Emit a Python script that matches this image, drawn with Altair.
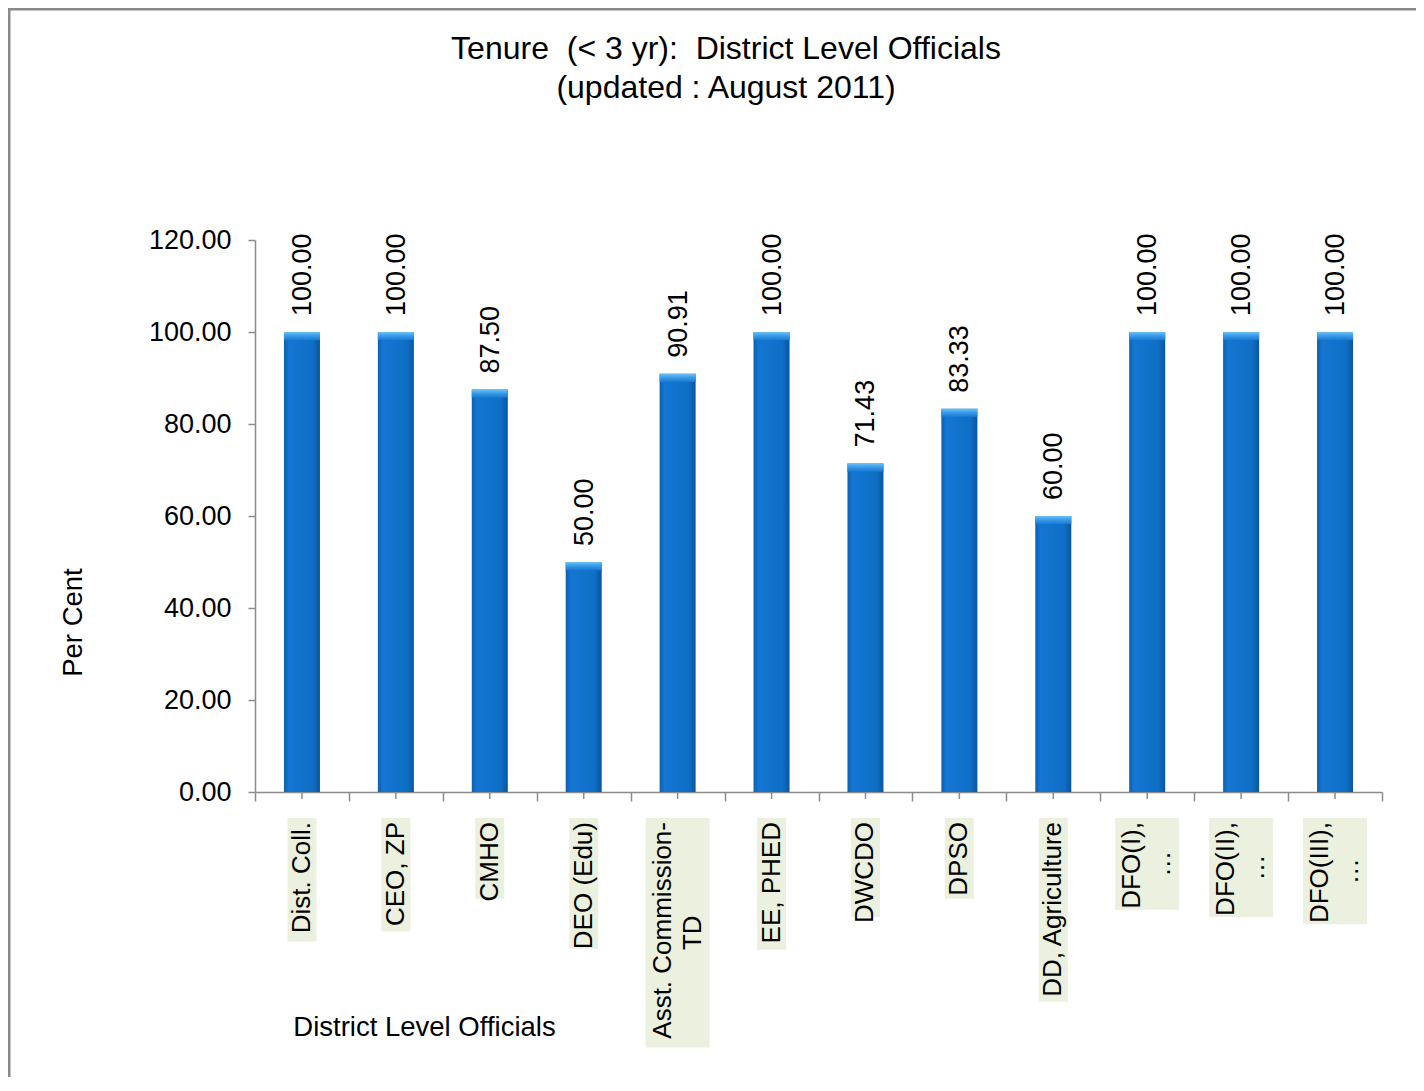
import altair as alt
import pandas as pd

# ---------------- data ----------------
categories = [
    "Dist. Coll.", "CEO, ZP", "CMHO", "DEO (Edu)", "Asst. Commission-\nTD",
    "EE, PHED", "DWCDO", "DPSO", "DD, Agriculture",
    "DFO(I),\n…", "DFO(II),\n…", "DFO(III),\n…",
]
values = [100.00, 100.00, 87.50, 50.00, 90.91, 100.00, 71.43, 83.33, 60.00, 100.00, 100.00, 100.00]
y_ticks = [0, 20, 40, 60, 80, 100, 120]
title_lines = ["Tenure\u00a0\u00a0(< 3 yr):\u00a0\u00a0District Level Officials", "(updated : August 2011)"]
x_title = "District Level Officials"
y_title = "Per Cent"

df = pd.DataFrame({"cat": categories, "value": values})

# ---------------- style ----------------
FONT = "Liberation Sans, Arial, Helvetica, sans-serif"
W, H = 1127, 552
FS = 26          # category labels
FS_AX = 27       # tick labels and value labels
FS_T = 27.5      # axis titles
GREY = "#8c8c8c"

xenc = alt.X(
    "cat:N", sort=categories,
    scale=alt.Scale(paddingInner=0, paddingOuter=0),
    axis=alt.Axis(
        labels=False, title=x_title, tickBand="extent", tickSize=9,
        domainColor=GREY, tickColor=GREY, domainWidth=1.5, tickWidth=1.5,
        titleFont=FONT, titleFontSize=FS_T, titleFontWeight="normal", titleColor="black",
        titleX=169, titleY=235, titleAlign="center", titleBaseline="middle",
    ),
)

yenc = alt.Y(
    "value:Q",
    scale=alt.Scale(domain=[0, 120], nice=False),
    axis=alt.Axis(
        values=y_ticks, format=".2f", grid=False, tickSize=7, labelPadding=17,
        domainColor=GREY, tickColor=GREY, domainWidth=1.5, tickWidth=1.5,
        labelFont=FONT, labelFontSize=FS_AX, labelColor="black",
        title=y_title, titleFont=FONT, titleFontSize=FS_T, titleFontWeight="normal",
        titleColor="black", titleAngle=270, titleX=-182, titleY=382,
        titleAlign="center", titleBaseline="middle",
    ),
)

body_grad = alt.LinearGradient(
    gradient="linear", x1=0, x2=1, y1=0, y2=0,
    stops=[
        alt.GradientStop(color="#0d5fae", offset=0),
        alt.GradientStop(color="#1476d2", offset=0.14),
        alt.GradientStop(color="#0f6fc6", offset=0.8),
        alt.GradientStop(color="#0a55a0", offset=1),
    ],
)
cap_grad = alt.LinearGradient(
    gradient="linear", x1=0, x2=0, y1=0, y2=1,
    stops=[
        alt.GradientStop(color="#6cc0f7", offset=0),
        alt.GradientStop(color="#3a9ce8", offset=0.45),
        alt.GradientStop(color="#1677d3", offset=1),
    ],
)

base = alt.Chart(df)

bars = base.mark_bar(width=36, fill=body_grad).encode(x=xenc, y=yenc)
caps = base.transform_calculate(cap="datum.value - 1.8").mark_bar(
    width=36, fill=cap_grad
).encode(x=xenc, y=yenc, y2="cap:Q")
vals = base.mark_text(
    angle=270, align="left", baseline="middle", dx=16, dy=1,
    font=FONT, fontSize=FS_AX, color="black",
).encode(x=xenc, y=yenc, text=alt.Text("value:Q", format=".2f"))
centre_ticks = base.mark_rule(color=GREY, strokeWidth=1.5).encode(
    x=xenc, y=alt.value(H), y2=alt.value(H + 7)
)

plot = alt.layer(bars, caps, vals, centre_ticks)

# ---------------- category labels with light boxes ----------------
lab = base.transform_calculate(
    parts="split(datum.cat, '\\n')",
).transform_calculate(
    l1="datum.parts[0]",
    l2="length(datum.parts) > 1 ? datum.parts[1] : ''",
    two="length(datum.parts) > 1",
).transform_calculate(
    n="length(datum.l1)",
    nu="length(datum.l1) - length(replace(datum.l1, regexp('[A-HJ-Z]', 'g'), ''))",
    nm="length(datum.l1) - length(replace(datum.l1, regexp('[mw]', 'g'), ''))",
    nn="length(datum.l1) - length(replace(datum.l1, regexp('[iljtfrI.,:;() -]', 'g'), ''))",
).transform_calculate(
    em="0.7*datum.nu + 0.83*datum.nm + 0.28*datum.nn + 0.54*(datum.n - datum.nu - datum.nm - datum.nn)",
).transform_calculate(
    top=f"{H + 26}",
    bot=f"{H + 26} + datum.em * {FS} + 8",
    l2y=f"{H + 30} + datum.em * {FS} / 2",
)

box_single = lab.transform_filter("!datum.two").mark_bar(width=29, color="#EBF1DE").encode(
    x=xenc, y=alt.Y("top:Q", scale=None, axis=None), y2="bot:Q"
)
box_double = lab.transform_filter("datum.two").mark_bar(width=64, color="#EBF1DE").encode(
    x=xenc, y=alt.Y("top:Q", scale=None, axis=None), y2="bot:Q"
)
txt_single = lab.transform_filter("!datum.two").mark_text(
    angle=270, align="right", baseline="middle", font=FONT, fontSize=FS, color="black"
).encode(x=xenc, y=alt.value(H + 30), text="l1:N")
txt_double1 = lab.transform_filter("datum.two").mark_text(
    angle=270, align="right", baseline="middle", dy=-15, font=FONT, fontSize=FS, color="black"
).encode(x=xenc, y=alt.value(H + 30), text="l1:N")
txt_double2 = lab.transform_filter("datum.two").mark_text(
    angle=270, align="center", baseline="middle", dy=15, font=FONT, fontSize=FS, color="black"
).encode(x=xenc, y=alt.Y("l2y:Q", scale=None, axis=None), text="l2:N")

labels = alt.layer(box_single, box_double, txt_single, txt_double1, txt_double2)

# ---------------- title and frame ----------------
one = alt.Chart(pd.DataFrame({"k": [0]}))
title = one.mark_text(
    align="center", baseline="middle", font=FONT, fontSize=32, lineHeight=39, color="black"
).encode(x=alt.value(471), y=alt.value(-191), text=alt.value(title_lines))
frame_top = one.mark_rule(color="#8a8a8a", strokeWidth=3).encode(
    x=alt.value(-247), x2=alt.value(W + 60), y=alt.value(-231)
)
frame_left = one.mark_rule(color="#8a8a8a", strokeWidth=3).encode(
    x=alt.value(-246), y=alt.value(-232), y2=alt.value(H + 320)
)

chart = alt.layer(plot, labels, title, frame_top, frame_left).resolve_scale(
    y="independent"
).properties(
    width=W, height=H,
    autosize=alt.AutoSizeParams(type="none"),
    padding={"left": 247, "top": 232, "right": 34, "bottom": 285},
).configure_view(stroke=None)

chart.save("out.html", embed_options={"renderer": "svg", "actions": False})
